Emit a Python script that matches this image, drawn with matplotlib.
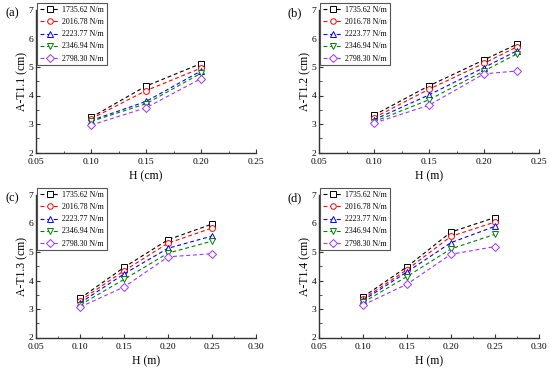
import matplotlib.pyplot as plt
from matplotlib.ticker import MultipleLocator

plt.rcParams['font.family'] = ['Liberation Serif', 'DejaVu Serif']

labels = ['1735.62 N/m', '2016.78 N/m', '2223.77 N/m', '2346.94 N/m', '2798.30 N/m']
colors = ['#000000', '#FF0000', '#0000FF', '#008000', '#9933FF']
markers = ['s', 'o', '^', 'v', 'D']

# (a)
xa = [0.10, 0.15, 0.20]
ya = [[3.23, 4.33, 5.12],
      [3.18, 4.17, 4.96],
      [3.12, 3.79, 4.86],
      [3.09, 3.71, 4.78],
      [2.96, 3.57, 4.59]]
# (b)
xb = [0.10, 0.15, 0.20, 0.23]
yb = [[3.31, 4.34, 5.25, 5.80],
      [3.22, 4.22, 5.13, 5.71],
      [3.15, 4.02, 4.98, 5.57],
      [3.08, 3.85, 4.86, 5.46],
      [3.03, 3.66, 4.76, 4.86]]
# (c)
xc = [0.10, 0.15, 0.20, 0.25]
yc = [[3.37, 4.46, 5.43, 5.98],
      [3.29, 4.34, 5.31, 5.84],
      [3.21, 4.23, 5.13, 5.56],
      [3.14, 4.04, 4.96, 5.38],
      [3.07, 3.77, 4.83, 4.94]]
# (d)
xd = [0.10, 0.15, 0.20, 0.25]
yd = [[3.42, 4.48, 5.70, 6.21],
      [3.35, 4.38, 5.55, 6.05],
      [3.30, 4.30, 5.33, 5.90],
      [3.23, 4.14, 5.11, 5.62],
      [3.14, 3.87, 4.92, 5.19]]

panels = [
    ('(a)', xa, ya, 'A-T1.1 (cm)', 'H (cm)', 0.25, [36, 10]),
    ('(b)', xb, yb, 'A-T1.2 (cm)', 'H (m)', 0.25, [319, 10]),
    ('(c)', xc, yc, 'A-T1.3 (cm)', 'H (m)', 0.30, [36, 195]),
    ('(d)', xd, yd, 'A-T1.4 (cm)', 'H (m)', 0.30, [319, 195]),
]

W, H = 550, 370
fig = plt.figure(figsize=(5.5, 3.7), dpi=100)

for tag, x, ys, ylab, xlab, xmax, (px, py) in panels:
    ax = fig.add_axes([px / W, 1 - (py + 142.5) / H, 220 / W, 142.5 / H])
    for y, c, m, lab in zip(ys, colors, markers, labels):
        ax.plot(x, y, color=c, ls=(0, (3.5, 2.5)), lw=0.8, marker=m,
                ms=4.2 if m != 'D' else 3.8, mfc='white', mec=c, mew=0.7, label=lab)
    ax.set_xlim(0.05, xmax)
    ax.set_ylim(2, 7)
    ax.xaxis.set_major_locator(MultipleLocator(0.05))
    ax.xaxis.set_minor_locator(MultipleLocator(0.025))
    ax.yaxis.set_major_locator(MultipleLocator(1))
    ax.yaxis.set_minor_locator(MultipleLocator(0.5))
    ax.xaxis.set_major_formatter(plt.FormatStrFormatter('%.2f'))
    ax.spines['top'].set_visible(False)
    ax.spines['right'].set_visible(False)
    for s in ('left', 'bottom'):
        ax.spines[s].set_color('#333333')
        ax.spines[s].set_linewidth(1.0)
    ax.tick_params(which='both', direction='in', labelsize=6.8, color='#333333')
    ax.tick_params(axis='x', pad=4)
    ax.tick_params(axis='y', pad=2)
    ax.tick_params(which='major', length=3)
    ax.tick_params(which='minor', length=1.8)
    ax.set_xlabel(xlab, fontsize=8.5, labelpad=3)
    ax.set_ylabel(ylab, fontsize=8.5, labelpad=0)
    leg = ax.legend(loc='upper left', bbox_to_anchor=(0.004, 1.047), fontsize=5.7,
                    frameon=True, fancybox=False, edgecolor='#555555', framealpha=1,
                    handlelength=2.6, handletextpad=0.25, labelspacing=0.52,
                    borderpad=0.35, borderaxespad=0, markerscale=0.95)
    leg.get_frame().set_linewidth(0.8)
    fig.text((px - 31) / W, 1 - (py + 3) / H, tag, fontsize=9, va='center', ha='left')

fig.savefig('out.png', dpi=100)
